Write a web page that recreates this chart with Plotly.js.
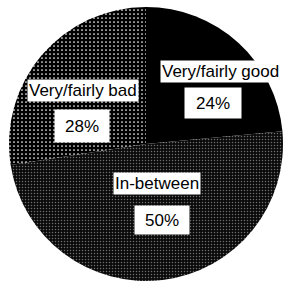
<!DOCTYPE html>
<html>
<head>
<meta charset="utf-8">
<script src="https://cdn.plot.ly/plotly-3.0.1.min.js"></script>
<style>html,body{margin:0;padding:0;background:#fff;}#chart{width:285px;height:282px;}</style>
</head>
<body>
<div id="chart"></div>
<script>
// Data
const categories = ["Very/fairly good", "In-between", "Very/fairly bad"];
const shares = [24, 50, 28];
const pctLabels = ["24%", "50%", "28%"];

// Layout helpers (pixel -> paper)
const W = 285, H = 282;
const px = x => x / W;
const py = y => 1 - y / H;

// label anchor positions (pixels), per category
const namePos = [[220, 72], [157, 183], [83, 90]];
const pctPos = [[213, 103], [162, 220], [82, 126]];
const pctBox = [[42, 16], [40, 14], [40, 18]];

const annotations = [];
categories.forEach((c, i) => {
  annotations.push({
    text: c, x: px(namePos[i][0]), y: py(namePos[i][1]),
    xref: 'paper', yref: 'paper', showarrow: false,
    xanchor: 'center', yanchor: 'middle',
    bgcolor: '#fff', borderpad: 1,
    font: {family: 'Liberation Sans, Arial, sans-serif', size: 17, color: '#000'}
  });
  annotations.push({
    text: pctLabels[i], x: px(pctPos[i][0]), y: py(pctPos[i][1]),
    xref: 'paper', yref: 'paper', showarrow: false,
    xanchor: 'center', yanchor: 'middle',
    width: pctBox[i][0], height: pctBox[i][1],
    bgcolor: '#fff', borderpad: 7,
    font: {family: 'Liberation Sans, Arial, sans-serif', size: 17, color: '#000'}
  });
});

const trace = {
  type: 'pie',
  labels: categories,
  values: shares,
  sort: false,
  direction: 'clockwise',
  rotation: 0,
  textinfo: 'none',
  hoverinfo: 'none',
  showlegend: false,
  domain: {x: [9 / W, 283 / W], y: [1 - 281 / H, 1 - 7 / H]},
  marker: {
    colors: ['#000000', '#111111', '#000000'],
    line: {color: '#000', width: 0},
    pattern: {
      shape: ['', '.', '.'],
      fgcolor: ['#000', '#6e6e6e', '#ffffff'],
      bgcolor: ['#000', '#0a0a0a', '#000000'],
      size: [4, 3, 4],
      solidity: [0.3, 0.2, 0.15]
    }
  }
};

Plotly.newPlot('chart', [trace], {
  width: W, height: H,
  margin: {l: 0, r: 0, t: 0, b: 0},
  paper_bgcolor: '#fff', plot_bgcolor: '#fff',
  showlegend: false,
  annotations: annotations
}, {staticPlot: true, displayModeBar: false});
</script>
</body>
</html>
